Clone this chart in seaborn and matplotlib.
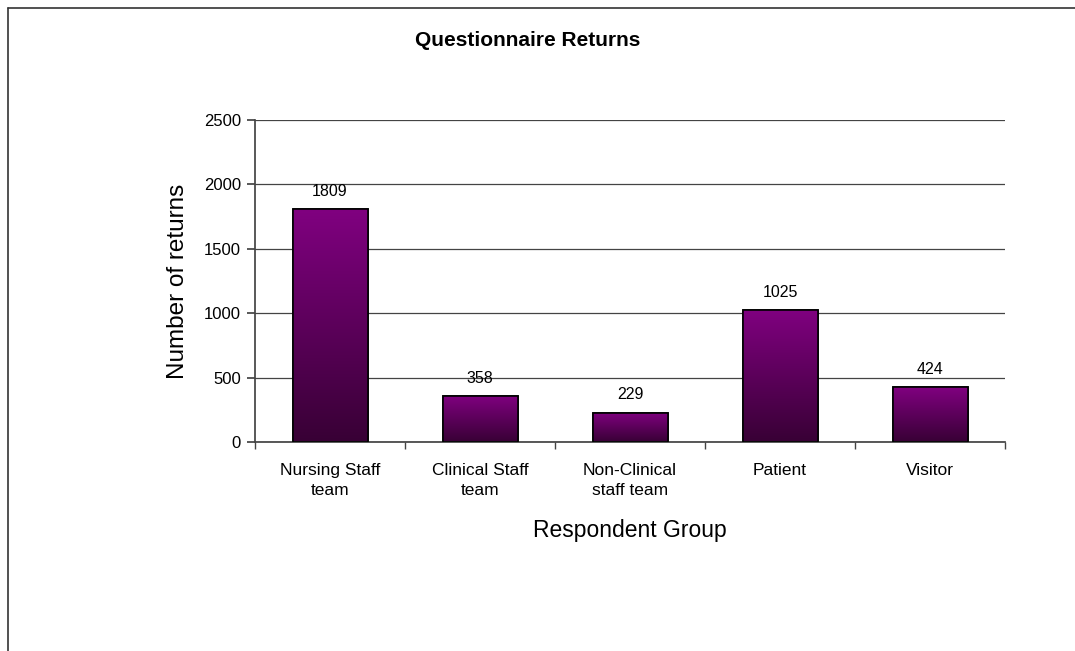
import matplotlib
matplotlib.use("Agg")
import matplotlib.pyplot as plt
import numpy as np
import pandas as pd
import seaborn as sns
from matplotlib.colors import LinearSegmentedColormap
from matplotlib.patches import Rectangle

sns.set_theme(style="white")
plt.rcParams["font.family"] = ["Liberation Sans", "DejaVu Sans"]
plt.rcParams["text.color"] = "black"
plt.rcParams["axes.labelcolor"] = "black"
plt.rcParams["xtick.color"] = "black"
plt.rcParams["ytick.color"] = "black"

groups = ["Nursing Staff\nteam", "Clinical Staff\nteam", "Non-Clinical\nstaff team", "Patient", "Visitor"]
returns = [1809, 358, 229, 1025, 424]
y_ticks = [0, 500, 1000, 1500, 2000, 2500]

df = pd.DataFrame({"group": groups, "returns": returns})

fig = plt.figure(figsize=(10.75, 6.51), dpi=100)
ax = fig.add_axes([255 / 1075, 1 - 442 / 651, 750 / 1075, 322 / 651])

sns.barplot(data=df, x="group", y="returns", ax=ax, width=0.5,
            color="#800080", edgecolor="black", linewidth=1.2, zorder=2)

# vertical gradient inside each bar (purple on top, dark at the base)
cmap = LinearSegmentedColormap.from_list("grad", ["#380035", "#800080"])
grad = np.linspace(0, 1, 256).reshape(-1, 1)
for bar in ax.patches:
    x0, y0 = bar.get_x(), bar.get_y()
    w, h = bar.get_width(), bar.get_height()
    im = ax.imshow(grad, cmap=cmap, origin="lower", aspect="auto",
                   extent=[x0, x0 + w, y0, y0 + h], zorder=2.5)
    im.set_clip_path(bar)
    ax.add_patch(Rectangle((x0, y0), w, h, fill=False, edgecolor="black",
                           linewidth=1.2, zorder=3))
    ax.text(x0 + w / 2, y0 + h + 80, f"{int(h)}", ha="center", va="bottom",
            fontsize=11.5, zorder=4)

ax.set_xlim(-0.5, len(groups) - 0.5)
ax.set_ylim(0, 2500)
ax.set_yticks(y_ticks)
ax.yaxis.grid(True, color="#444444", linewidth=0.9, zorder=0)
ax.set_axisbelow(True)

for side in ["top", "right"]:
    ax.spines[side].set_visible(False)
ax.spines["left"].set_color("#444444")
ax.spines["bottom"].set_color("#444444")

ax.set_xticks(np.arange(-0.5, len(groups), 1.0), minor=True)
ax.tick_params(axis="x", which="major", length=0, pad=15, labelsize=12.5)
ax.tick_params(axis="x", which="minor", length=5, color="#444444", direction="out", bottom=True)
ax.tick_params(axis="y", length=6, color="#444444", direction="out", left=True, labelsize=12, pad=4)
for lbl in ax.get_xticklabels():
    lbl.set_linespacing(1.45)

ax.set_xlabel("Respondent Group", fontsize=16.5)
ax.set_ylabel("Number of returns", fontsize=17.5)
ax.xaxis.set_label_coords(0.5, (442 - 530) / 322)
ax.xaxis.label.set_va("center")
ax.yaxis.set_label_coords((178 - 255) / 750, 0.5)
ax.yaxis.label.set_va("center")

fig.text(528 / 1075, 1 - 40 / 651, "Questionnaire Returns", ha="center", va="center",
         fontsize=15, fontweight="bold")

# chart frame
fig.add_artist(plt.Line2D([8 / 1075, 8 / 1075], [0, 1 - 8 / 651], transform=fig.transFigure,
                          color="#333333", linewidth=1.2))
fig.add_artist(plt.Line2D([8 / 1075, 1], [1 - 8 / 651, 1 - 8 / 651], transform=fig.transFigure,
                          color="#333333", linewidth=1.2))

fig.savefig("out.png", dpi=100)
